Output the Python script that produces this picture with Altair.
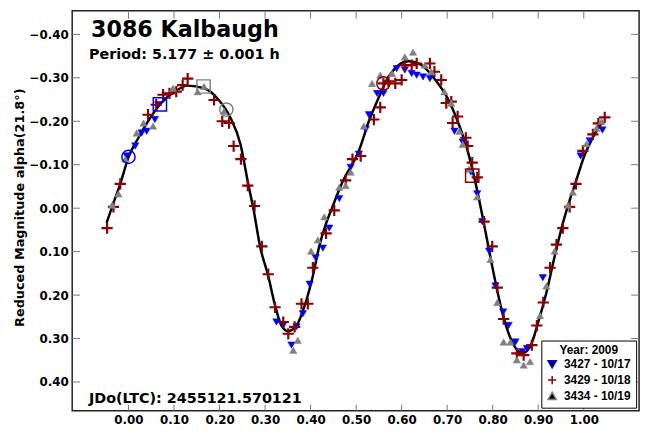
import altair as alt
import pandas as pd

# ---------------- data ----------------
sessions = ["3427 - 10/17", "3429 - 10/18", "3434 - 10/19"]
session_colors = ["#0000FF", "#8B0000", "#808080"]
session_shapes = ["triangle-down", "M-1,0L1,0M0,-1L0,1", "triangle-up"]
session_sizes = [55, 130, 55]
session_strokes = [0.5, 2.2, 0.5]

blue_phase = [-0.004, 0.015, 0.029, 0.040, 0.058, 0.065, 0.325, 0.340, 0.358, 0.369,
              0.383, 0.398, 0.411, 0.427, 0.441, 0.463, 0.488, 0.506, 0.521, 0.528,
              0.546, 0.560, 0.589, 0.607, 0.622, 0.633, 0.647, 0.662, 0.716, 0.734,
              0.752, 0.766, 0.777, 0.792, 0.806, 0.823, 0.835, 0.850, 0.864, 0.875,
              0.910, 0.993, 1.013, 1.041]
blue_mag = [-0.120, -0.143, -0.173, -0.177, -0.204, -0.238, 0.262, 0.270, 0.315, 0.273,
            0.243, 0.175, 0.114, 0.092, 0.046, -0.022, -0.094, -0.124, -0.181, -0.215,
            -0.264, -0.264, -0.321, -0.318, -0.310, -0.306, -0.302, -0.298, -0.177, -0.152,
            -0.083, -0.033, 0.031, 0.099, 0.179, 0.239, 0.270, 0.308, 0.330, 0.323,
            0.160, -0.120, -0.155, -0.180]

red_phase = [-0.047, -0.033, -0.018, 0.043, 0.061, 0.076, 0.090, 0.105, 0.119, 0.130,
             0.188, 0.206, 0.221, 0.231, 0.247, 0.262, 0.277, 0.293, 0.307, 0.322,
             0.340, 0.351, 0.365, 0.380, 0.394, 0.405, 0.434, 0.452, 0.477, 0.492,
             0.510, 0.539, 0.553, 0.560, 0.571, 0.586, 0.600, 0.607, 0.622, 0.633,
             0.662, 0.672, 0.687, 0.698, 0.709, 0.712, 0.723, 0.741, 0.745, 0.755,
             0.766, 0.781, 0.799, 0.810, 0.824, 0.853, 0.868, 0.886, 0.897, 0.911,
             0.926, 0.940, 0.954, 0.969, 0.983, 0.998, 1.020, 1.032, 1.046]
red_mag = [0.046, -0.003, -0.056, -0.215, -0.238, -0.261, -0.264, -0.268, -0.283, -0.298,
           -0.249, -0.200, -0.196, -0.143, -0.113, -0.052, -0.005, 0.088, 0.152, 0.228,
           0.262, 0.289, 0.273, 0.220, 0.220, 0.137, 0.058, 0.005, -0.064, -0.113,
           -0.120, -0.204, -0.232, -0.287, -0.292, -0.287, -0.295, -0.329, -0.329, -0.333,
           -0.333, -0.314, -0.295, -0.242, -0.245, -0.196, -0.211, -0.162, -0.143, -0.105,
           -0.071, 0.031, 0.088, 0.183, 0.255, 0.334, 0.338, 0.315, 0.270, 0.217,
           0.137, 0.084, 0.046, -0.003, -0.056, -0.132, -0.170, -0.195, -0.209]

gray_phase = [-0.036, -0.022, -0.007, 0.018, 0.033, 0.054, 0.098, 0.152, 0.166, 0.210,
              0.362, 0.372, 0.401, 0.416, 0.430, 0.463, 0.477, 0.488, 0.517, 0.535,
              0.553, 0.579, 0.607, 0.625, 0.651, 0.665, 0.694, 0.709, 0.727, 0.734,
              0.748, 0.766, 0.795, 0.810, 0.824, 0.839, 0.853, 0.868, 0.882, 0.904,
              0.918, 0.936, 0.965, 0.976, 1.006, 1.028, 1.039]
gray_mag = [-0.007, -0.033, -0.113, -0.173, -0.196, -0.189, -0.276, -0.268, -0.280, -0.223,
            0.327, 0.304, 0.099, 0.073, 0.020, -0.048, -0.052, -0.083, -0.189, -0.287,
            -0.306, -0.310, -0.348, -0.359, -0.329, -0.314, -0.268, -0.242, -0.177, -0.147,
            -0.090, -0.026, 0.118, 0.217, 0.308, 0.308, 0.349, 0.361, 0.353, 0.247,
            0.179, 0.099, -0.007, -0.037, -0.148, -0.184, -0.200]

# first / last point markers of each session
mark_phase = [0.000, 0.069, 0.165, 0.215, 0.560, 0.755]
mark_mag = [-0.118, -0.239, -0.280, -0.227, -0.287, -0.075]
mark_shape = ["circle", "square", "square", "circle", "circle", "square"]
mark_color = ["#0000FF", "#0000FF", "#808080", "#808080", "#8B0000", "#8B0000"]

# fitted Fourier curve
curve_phase = [-0.048, -0.036, -0.018, 0.000, 0.022, 0.043, 0.072, 0.101, 0.130, 0.166,
               0.195, 0.224, 0.246, 0.263, 0.275, 0.289, 0.307, 0.322, 0.336, 0.351,
               0.369, 0.387, 0.405, 0.419, 0.434, 0.448, 0.470, 0.506, 0.528, 0.549,
               0.571, 0.593, 0.615, 0.644, 0.672, 0.701, 0.723, 0.745, 0.761, 0.774,
               0.788, 0.806, 0.824, 0.842, 0.864, 0.882, 0.900, 0.918, 0.936, 0.954,
               0.969, 0.983, 1.000, 1.020, 1.042]
curve_mag = [0.034, -0.003, -0.056, -0.117, -0.162, -0.200, -0.242, -0.268, -0.282, -0.276,
             -0.253, -0.208, -0.147, -0.056, 0.005, 0.088, 0.156, 0.224, 0.270, 0.283,
             0.270, 0.224, 0.156, 0.088, 0.035, -0.003, -0.060, -0.132, -0.200, -0.253,
             -0.302, -0.329, -0.338, -0.329, -0.298, -0.253, -0.200, -0.132, -0.064, 0.000,
             0.075, 0.170, 0.252, 0.306, 0.334, 0.319, 0.262, 0.194, 0.111, 0.035,
             -0.018, -0.062, -0.117, -0.163, -0.200]

x_ticks = [0.0, 0.1, 0.2, 0.3, 0.4, 0.5, 0.6, 0.7, 0.8, 0.9, 1.0]
y_ticks = [-0.4, -0.3, -0.2, -0.1, 0.0, 0.1, 0.2, 0.3, 0.4]

title_text = "3086 Kalbaugh"
period_text = "Period: 5.177 \u00b1 0.001 h"
jd_text = "JDo(LTC): 2455121.570121"
y_title = "Reduced Magnitude alpha(21.8\u00b0)"
legend_title = "Year: 2009"

# ---------------- tables ----------------
pts = pd.concat([
    pd.DataFrame({"phase": blue_phase, "mag": blue_mag, "session": sessions[0]}),
    pd.DataFrame({"phase": red_phase, "mag": red_mag, "session": sessions[1]}),
    pd.DataFrame({"phase": gray_phase, "mag": gray_mag, "session": sessions[2]}),
], ignore_index=True)
pts["k"] = range(len(pts))
marks = pd.DataFrame({"phase": mark_phase, "mag": mark_mag, "mshape": mark_shape, "mcolor": mark_color})
curve = pd.DataFrame({"phase": curve_phase, "mag": curve_mag})
xt = pd.DataFrame({"phase": x_ticks})
yt = pd.DataFrame({"mag": y_ticks})

W, H = 574, 405
FONT = "DejaVu Sans"
xs = alt.Scale(domain=[-0.1236, 1.1215], nice=False, zero=False)
ys = alt.Scale(domain=[-0.4545, 0.4659], reverse=True, nice=False, zero=False)
xaxis = alt.Axis(values=x_ticks, format=".2f", title=None, ticks=False, domain=False,
                 grid=False, labelPadding=4)
yaxis = alt.Axis(values=y_ticks, format=".2f", title=y_title, ticks=False, domain=False,
                 grid=False, labelPadding=4, titleX=-46, titleY=199, titleAngle=270,
                 titleAlign="center", titleBaseline="bottom")


def X(f):
    return alt.X(f"{f}:Q", scale=xs, axis=xaxis)


def Y(f):
    return alt.Y(f"{f}:Q", scale=ys, axis=yaxis)


leg = alt.Legend(title=legend_title)
line = alt.Chart(curve).mark_line(color="black", strokeWidth=2.5, interpolate="monotone").encode(
    x=X("phase"), y=Y("mag"))

points = alt.Chart(pts).mark_point(filled=True, opacity=1).encode(
    x=X("phase"), y=Y("mag"),
    fill=alt.Fill("session:N", scale=alt.Scale(domain=sessions, range=session_colors), legend=leg),
    stroke=alt.Stroke("session:N", scale=alt.Scale(domain=sessions, range=session_colors), legend=leg),
    shape=alt.Shape("session:N", scale=alt.Scale(domain=sessions, range=session_shapes), legend=leg),
    size=alt.Size("session:N", scale=alt.Scale(type="ordinal", domain=sessions, range=session_sizes),
                  legend=None),
    strokeWidth=alt.StrokeWidth("session:N",
                                scale=alt.Scale(type="ordinal", domain=sessions, range=session_strokes),
                                legend=None),
    order=alt.Order("k:Q"),
)

special = alt.Chart(marks).mark_point(filled=False, size=180, strokeWidth=1.5, opacity=1).encode(
    x=X("phase"), y=Y("mag"),
    shape=alt.Shape("mshape:N", scale=None, legend=None),
    stroke=alt.Stroke("mcolor:N", scale=None, legend=None),
)

tick_style = dict(color="#777777", strokeWidth=1)
t_bottom = alt.Chart(xt).mark_rule(**tick_style).encode(x=X("phase"), y=alt.value(H - 6), y2=alt.value(H))
t_top = alt.Chart(xt).mark_rule(**tick_style).encode(x=X("phase"), y=alt.value(0), y2=alt.value(8))
t_left = alt.Chart(yt).mark_rule(**tick_style).encode(y=Y("mag"), x=alt.value(0), x2=alt.value(8))
t_right = alt.Chart(yt).mark_rule(**tick_style).encode(y=Y("mag"), x=alt.value(W - 8), x2=alt.value(W))

# drop shadow behind the legend box
shadow = alt.Chart(pd.DataFrame({"s": [1]})).mark_rect(color="black").encode(
    x=alt.value(478), x2=alt.value(568), y=alt.value(337), y2=alt.value(397))

txt = pd.DataFrame({"t": [title_text, period_text, jd_text]})
t1 = alt.Chart(txt.iloc[[0]]).mark_text(font=FONT, fontWeight="bold", fontSize=22.5, align="left",
                                        baseline="alphabetic", color="black").encode(
    text="t:N", x=alt.value(19), y=alt.value(27))
t2 = alt.Chart(txt.iloc[[1]]).mark_text(font=FONT, fontWeight="bold", fontSize=14.5, align="left",
                                        baseline="alphabetic", color="black").encode(
    text="t:N", x=alt.value(17), y=alt.value(49))
t3 = alt.Chart(txt.iloc[[2]]).mark_text(font=FONT, fontWeight="bold", fontSize=14.5, align="left",
                                        baseline="alphabetic", color="black").encode(
    text="t:N", x=alt.value(17), y=alt.value(397))

chart = alt.layer(t_bottom, t_top, t_left, t_right, line, points, special, shadow, t1, t2, t3).resolve_scale(
    shape="independent", stroke="independent"
).properties(
    width=W, height=H,
    autosize=alt.AutoSizeParams(type="none"),
    padding={"left": 65, "top": 0, "right": 7, "bottom": 25},
).configure_view(
    stroke="#222222", strokeWidth=1.5
).configure_axis(
    labelFont=FONT, labelFontWeight="bold", labelFontSize=12, labelColor="black",
    titleFont=FONT, titleFontWeight="bold", titleFontSize=13, titleColor="black",
).configure_legend(
    orient="none", legendX=475, legendY=334,
    fillColor="white", strokeColor="black", strokeWidth=1, padding=5,
    titleFont="Liberation Sans", titleFontWeight="bold", titleFontSize=12, titleColor="black",
    titleAnchor="middle", titlePadding=1,
    labelFont="Liberation Sans", labelFontWeight="bold", labelFontSize=12, labelColor="black",
    labelOffset=6, rowPadding=1, symbolSize=70, symbolStrokeWidth=1.5,
)

chart.save("out.html", embed_options={"renderer": "svg", "actions": False})
